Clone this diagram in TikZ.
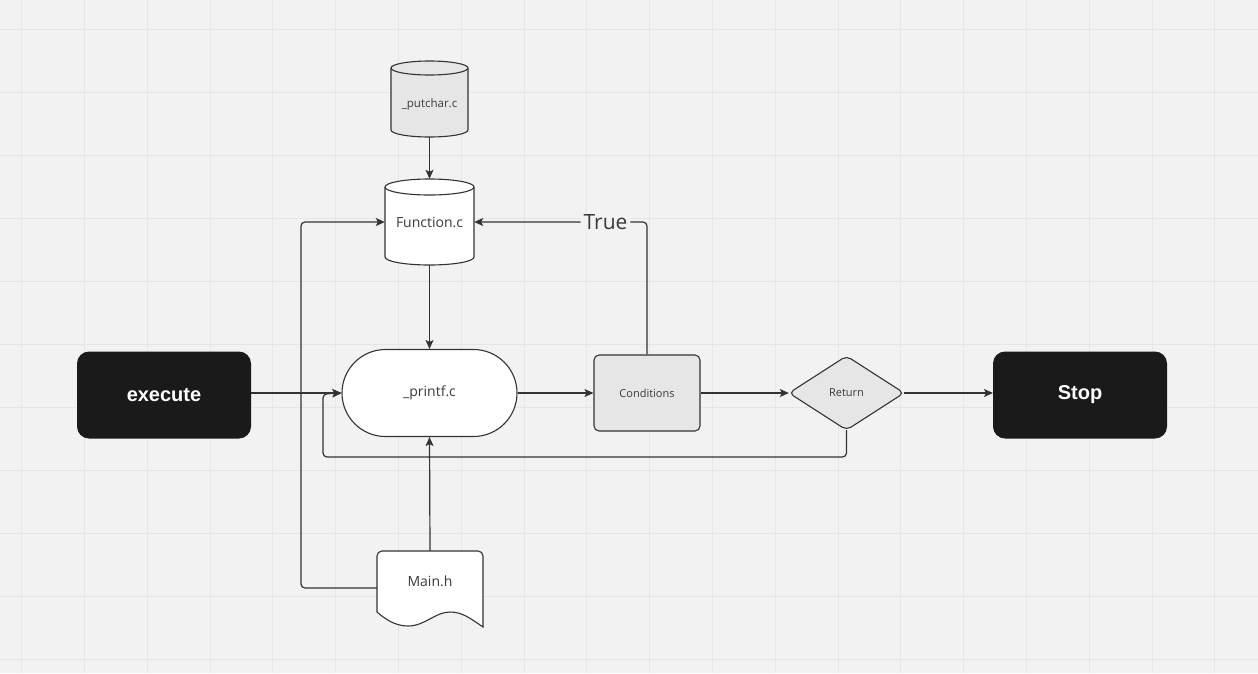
\documentclass[tikz,border=0pt]{standalone}
\usepackage{fontspec}
\setmainfont{Open Sans}
\newfontfamily\arialb{Liberation Sans}
\usetikzlibrary{arrows.meta,calc}
\definecolor{bgc}{HTML}{F2F2F2}
\definecolor{gridc}{HTML}{E6E6E6}
\definecolor{linec}{HTML}{333333}
\definecolor{darkc}{HTML}{1A1A1A}
\definecolor{lightfill}{HTML}{E6E6E6}
\definecolor{txtc}{HTML}{3A3A3A}
\tikzset{
  conn/.style={draw=linec,line width=1.2pt,rounded corners=4pt,-{Stealth[length=9pt,width=8pt,inset=2pt]}},
  shp/.style={draw=linec,line width=1.1pt},
  darkbox/.style={fill=darkc,rounded corners=12pt,minimum width=174pt,minimum height=87pt,text=white,font=\arialb\bfseries\fontsize{20}{24}\selectfont},
  anchorbox/.style={inner sep=0pt,text=txtc},
}
\begin{document}
\begin{tikzpicture}[x=1pt,y=-1pt]
\useasboundingbox (0,0) rectangle (1258,673);
\fill[bgc] (0,0) rectangle (1258,673);
\foreach \i in {0,...,19} {\draw[gridc,line width=1pt] ({21.7+62.8*\i},0) -- ({21.7+62.8*\i},673);}
\foreach \j in {0,...,10} {\draw[gridc,line width=1pt] (0,{29+63*\j}) -- (1258,{29+63*\j});}

% putchar cylinder
\filldraw[shp,fill=lightfill] (391,68) -- (391,130) arc[start angle=180,end angle=360,x radius=38.5,y radius=-7] -- (468,68) arc[start angle=0,end angle=-180,x radius=38.5,y radius=7] -- cycle;
\draw[shp] (391,68) arc[start angle=180,end angle=360,x radius=38.5,y radius=-7];
\node[anchorbox,minimum width=77pt,minimum height=76pt] (put) at (429.5,99) {};
\node[text=txtc,font=\fontsize{11.5}{13}\selectfont] at (429.5,105) {\_putchar.c};
\coordinate (putb) at (429.5,137);

% Function.c cylinder
\filldraw[shp,fill=white] (385,187) -- (385,257) arc[start angle=180,end angle=360,x radius=44.5,y radius=-8] -- (474,187) arc[start angle=0,end angle=-180,x radius=44.5,y radius=8] -- cycle;
\draw[shp] (385,187) arc[start angle=180,end angle=360,x radius=44.5,y radius=-8];
\node[anchorbox,minimum width=89pt,minimum height=86pt] (func) at (429.5,222) {};
\node[text=txtc,font=\fontsize{14}{16}\selectfont] at (429.5,222) {Function.c};

% printf stadium
\node[shp,fill=white,rounded corners=43.5pt,minimum width=175pt,minimum height=87pt,text=txtc,font=\fontsize{14}{16}\selectfont] (printf) at (429.5,393) {\_printf.c};

% execute / Stop
\node[darkbox] (exec) at (164,395) {execute};
\node[darkbox] (stop) at (1080,395) {Stop};
\coordinate (execE) at (251,393);
\coordinate (stopW) at (993,393);

% Conditions
\node[shp,fill=lightfill,rounded corners=5pt,minimum width=106pt,minimum height=76pt,text=txtc,font=\fontsize{11}{13}\selectfont] (cond) at (647,393) {Conditions};

% Return diamond
\filldraw[shp,fill=lightfill,rounded corners=5pt] (789,393) -- (846.5,356) -- (904,393) -- (846.5,430) -- cycle;
\node[anchorbox,minimum width=115pt,minimum height=74pt,font=\fontsize{11}{13}\selectfont] (ret) at (846.5,393) {Return};

% Main.h document
\filldraw[shp,fill=white] (377,612) -- (377,557) [rounded corners=5pt] -- (377,551) -- (483,551) [sharp corners] -- (483,627)
  .. controls (470,618) and (462,612) .. (450,612)
  .. controls (435,612) and (425,626) .. (408,626)
  .. controls (395,626) and (385,619) .. (377,612) -- cycle;
\node[anchorbox,minimum width=106pt,minimum height=74pt] (mainh) at (430,588) {};
\node[text=txtc,font=\fontsize{14}{16}\selectfont] at (430,581) {Main.h};

% connectors
\draw[conn] (putb) -- (func.north);
\draw[conn] (func.south) -- (printf.north);
\draw[conn] (execE) -- (printf.west);
\draw[conn] (printf.east) -- (cond.west);
\draw[conn] (cond.east) -- (ret.west);
\draw[conn] (ret.east) -- (stopW);
\draw[conn] (ret.south) -- (846.5,457) -- (323,457) -- (323,394) -- (printf.west);
\draw[conn] (mainh.north) -- (printf.south);
\draw[conn] (mainh.west) -- (301,588) -- (301,222) -- (func.west);
\draw[conn] (cond.north) -- (647,222) -- node[pos=0.24,fill=bgc,inner sep=3pt,text=txtc,font=\fontsize{21}{24}\selectfont] (truelbl) {True} (func.east);
\end{tikzpicture}
\end{document}
